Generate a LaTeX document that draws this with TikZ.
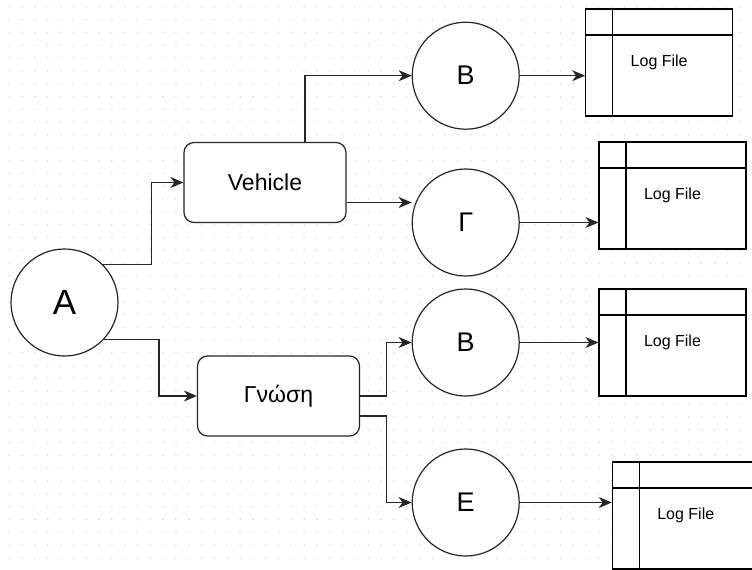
\documentclass[tikz,border=0pt]{standalone}
\usepackage{fontspec}
\setmainfont{Liberation Sans}
\usetikzlibrary{arrows.meta}

\begin{document}
\begin{tikzpicture}[x=1pt, y=-1pt,
        >={Stealth[length=13pt, width=11pt, inset=4pt]},
        griddot/.style={fill=black!16},
        state/.style={circle, draw=black!85, line width=1.2pt, fill=white,
            minimum size=107pt, inner sep=0pt},
        group/.style={rectangle, rounded corners=10pt, draw=black!85, line width=1.2pt,
            fill=white, minimum width=162pt, minimum height=80pt,
            font=\fontsize{23}{27}\selectfont},
        logfile/.style={rectangle, draw=black, line width=1.1pt, fill=white,
            minimum width=147pt, minimum height=107pt, inner sep=0pt,
            font=\fontsize{16}{19}\selectfont,
            path picture={
                \draw[line width=1.1pt] ([xshift=27pt]path picture bounding box.north west)
                    -- ([xshift=27pt]path picture bounding box.south west);
                \draw[line width=1.1pt] ([yshift=-26pt]path picture bounding box.north west)
                    -- ([yshift=-26pt]path picture bounding box.north east);
            }},
        conn/.style={->, draw=black!85, line width=1.2pt}]
        \useasboundingbox (0,0) rectangle (752,570);
        \clip (0,0) rectangle (752,570);
        \fill[white] (0,0) rectangle (752,570);

        % Dotted grid
        \foreach \i in {0,...,58}
            \foreach \j in {0,...,44}
                \fill[griddot] (9.3+12.82*\i, 6.7+12.82*\j) circle[radius=0.75pt];

        % Root and the two groups
        \node[state, font=\fontsize{35}{40}\selectfont] (A) at (64.5, 302.5) {A};
        \node[group] (vehicle) at (265, 182.5) {Vehicle};
        \node[group] (gnosi) at (278.5, 396) {Γνώση};

        % Leaves
        \node[state, font=\fontsize{27}{32}\selectfont] (b1) at (465.7, 75.7) {B};
        \node[state, font=\fontsize{27}{32}\selectfont] (gamma) at (465.7, 222.5) {Γ};
        \node[state, font=\fontsize{27}{32}\selectfont] (b2) at (465.7, 342.5) {B};
        \node[state, font=\fontsize{27}{32}\selectfont] (e) at (465.7, 502.5) {E};

        % Log files
        \node[logfile] (log1) at (659.2, 62.5) {Log File};
        \node[logfile] (log2) at (672.5, 195.5) {Log File};
        \node[logfile] (log3) at (672.5, 342.5) {Log File};
        \node[logfile] (log4) at (685.8, 515.5) {Log File};

        % Edges from the root
        \draw[conn] (A.45) -- ++(49,0) |- (vehicle.west);
        \draw[conn] (A.-43) -- ++(55,0) |- (gnosi.west);

        % Edges from the groups
        \draw[conn] ([xshift=40pt]vehicle.north) |- (b1.west);
        \draw[conn] ([yshift=-20pt]vehicle.east) -- ([yshift=-20pt]vehicle.east -| gamma.west);
        \draw[conn] (gnosi.east) -- ++(26,0) |- (b2.west);
        \draw[conn] ([yshift=-20pt]gnosi.east) -- ++(26,0) |- (e.west);

        % Edges to the log files
        \draw[conn] (b1.east) -- (b1.east -| log1.west);
        \draw[conn] (gamma.east) -- (gamma.east -| log2.west);
        \draw[conn] (b2.east) -- (b2.east -| log3.west);
        \draw[conn] (e.east) -- (e.east -| log4.west);
    \end{tikzpicture}
\end{document}
